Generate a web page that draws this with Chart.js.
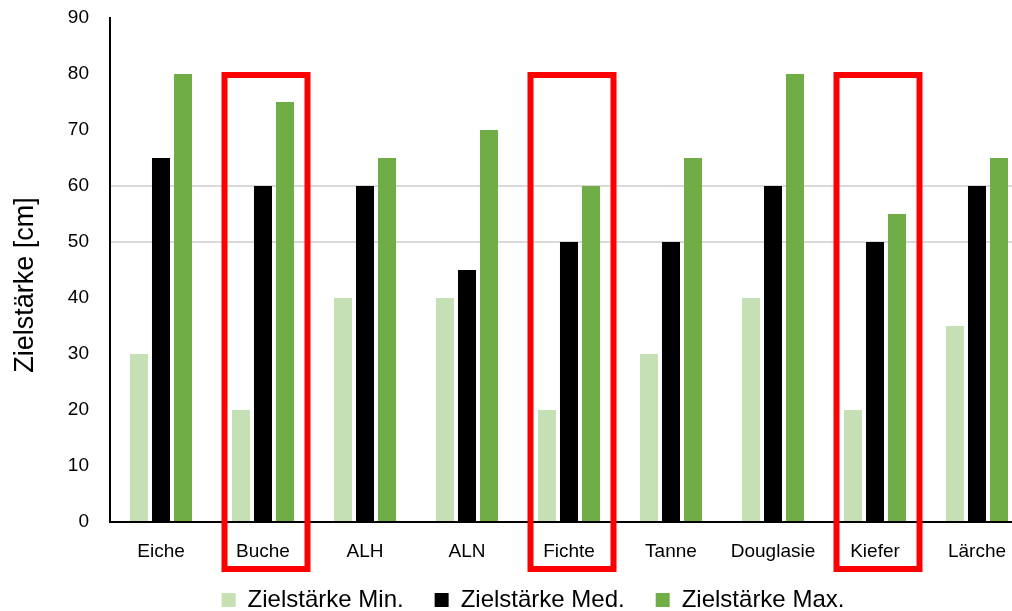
<!DOCTYPE html>
<html>
<head>
<meta charset="utf-8">
<script src="https://cdn.jsdelivr.net/npm/chart.js@4"></script>
<style>
    html, body { margin: 0; padding: 0; background: #fff; overflow: hidden; }
    #wrap { position: absolute; left: 0; top: 0; width: 1052px; height: 634px; }
</style>
</head>
<body>
<div id="wrap"><canvas id="chartZiel" width="1052" height="634"></canvas></div>
<script>
// Zielstärken je Baumart
const baumarten = ['Eiche', 'Buche', 'ALH', 'ALN', 'Fichte', 'Tanne', 'Douglasie', 'Kiefer', 'Lärche'];
const zielMin = [30, 20, 40, 40, 20, 30, 40, 20, 35];
const zielMed = [65, 60, 60, 45, 50, 50, 60, 50, 60];
const zielMax = [80, 75, 65, 70, 60, 65, 80, 55, 65];
const yTicks = [0, 10, 20, 30, 40, 50, 60, 70, 80, 90];
const hervorgehoben = ['Buche', 'Fichte', 'Kiefer'];
const rahmenOben = 80;
const yTitel = 'Zielstärke [cm]';

const FONT = '"Liberation Sans", Arial, sans-serif';

const rahmenPlugin = {
    id: 'rahmen',
    afterLayout(chart) {
        // Legende etwas verschieben, wie im Original
        const lg = chart.legend;
        lg.left += 19;
        lg.right += 19;
        lg.top -= 12;
        lg.bottom -= 12;
    },
    afterDatasetsDraw(chart) {
        // rote Rahmen um die hervorgehobenen Baumarten
        const { ctx, scales: { x, y } } = chart;
        ctx.save();
        ctx.strokeStyle = '#ff0000';
        ctx.lineWidth = 6;
        hervorgehoben.forEach(name => {
            const cx = x.getPixelForValue(baumarten.indexOf(name)) + 3;
            const top = y.getPixelForValue(rahmenOben) + 1;
            const bottom = y.getPixelForValue(0) + 47;
            ctx.strokeRect(cx - 41.5, top, 83, bottom - top);
        });
        ctx.restore();
    },
    afterDraw(chart) {
        // Achsentitel, leicht unterhalb der Mitte wie im Original
        const { ctx, scales: { y } } = chart;
        ctx.save();
        ctx.translate(y.left + 26, (y.top + y.bottom) / 2 + 15);
        ctx.rotate(-Math.PI / 2);
        ctx.fillStyle = '#000';
        ctx.font = '27px ' + FONT;
        ctx.textAlign = 'center';
        ctx.textBaseline = 'middle';
        ctx.fillText(yTitel, 0, 0);
        ctx.restore();
    }
};

new Chart(document.getElementById('chartZiel').getContext('2d'), {
    type: 'bar',
    data: {
        labels: baumarten,
        datasets: [
            { label: 'Zielstärke Min.', data: zielMin, backgroundColor: '#c5e0b4' },
            { label: 'Zielstärke Med.', data: zielMed, backgroundColor: '#000000' },
            { label: 'Zielstärke Max.', data: zielMax, backgroundColor: '#70ad47' }
        ]
    },
    options: {
        responsive: false,
        animation: false,
        devicePixelRatio: 1,
        categoryPercentage: 0.647,
        barPercentage: 0.82,
        layout: { padding: { top: 18, right: 24, left: 0, bottom: 0 } },
        plugins: {
            tooltip: { enabled: false },
            legend: {
                position: 'bottom',
                labels: {
                    color: '#000',
                    font: { family: FONT, size: 24 },
                    boxWidth: 14,
                    boxHeight: 14,
                    padding: 31
                }
            }
        },
        scales: {
            x: {
                grid: { display: false },
                border: { display: true, color: '#000', width: 2 },
                ticks: { color: '#000', font: { family: FONT, size: 19 }, padding: 10, maxRotation: 0, autoSkip: false },
                afterFit(scale) { scale.height = 47; }
            },
            y: {
                min: 0,
                max: 90,
                afterBuildTicks(scale) { scale.ticks = yTicks.map(v => ({ value: v })); },
                grid: {
                    drawTicks: false,
                    lineWidth: 2,
                    color: c => (c.tick && (c.tick.value === 50 || c.tick.value === 60)) ? '#d9d9d9' : 'rgba(0,0,0,0)'
                },
                border: { display: true, color: '#000', width: 2 },
                ticks: { color: '#000', font: { family: FONT, size: 19 }, padding: 21 },
                afterFit(scale) {
                    scale.width = 110;
                    scale.paddingTop = 0;
                    scale.paddingBottom = 0;
                }
            }
        }
    },
    plugins: [rahmenPlugin]
});
</script>
</body>
</html>
